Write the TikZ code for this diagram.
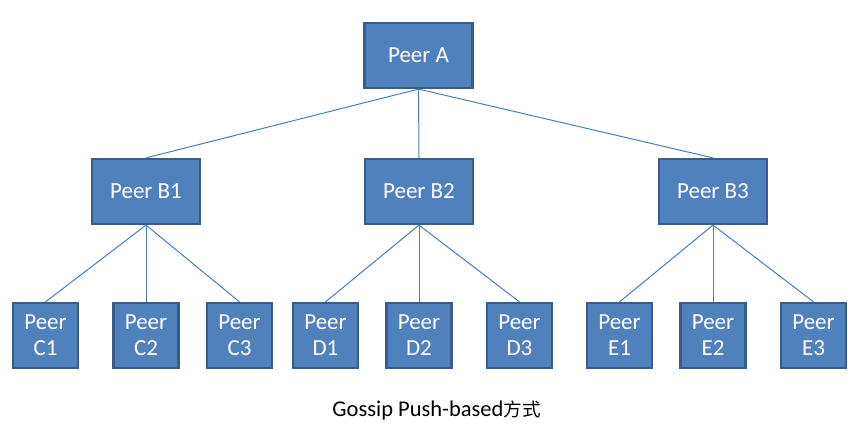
\documentclass[tikz,border=0pt]{standalone}
\usepackage{fontspec}
\setmainfont{Carlito}
\newfontfamily\cjk{Noto Sans CJK SC}
\definecolor{boxfill}{HTML}{4F81BD}
\definecolor{boxline}{HTML}{385D8A}
\definecolor{linkc}{HTML}{4A7EBB}
\begin{document}
\begin{tikzpicture}[x=1pt,y=-1pt,
  peer/.style={draw=boxline,line width=2.2pt,fill=boxfill,text=white,
    font=\fontsize{23}{26}\selectfont,align=center,inner sep=0pt},
  big/.style={peer,minimum width=108pt,minimum height=65pt},
  small/.style={peer,minimum width=65pt,minimum height=65pt},
  link/.style={draw=linkc,line width=1pt}]
\useasboundingbox (0,0) rectangle (860,430);
\node[big] (A) at (418.5,55.5) {Peer A};
\node[big] (B1) at (146,191.5) {Peer B1};
\node[big] (B2) at (419,191.5) {Peer B2};
\node[big] (B3) at (713,191.5) {Peer B3};
\node[small] (C1) at (45.5,335.5) {Peer\\C1};
\node[small] (C2) at (146,335.5) {Peer\\C2};
\node[small] (C3) at (239.5,335.5) {Peer\\C3};
\node[small] (D1) at (325.5,335.5) {Peer\\D1};
\node[small] (D2) at (419,335.5) {Peer\\D2};
\node[small] (D3) at (519.5,335.5) {Peer\\D3};
\node[small] (E1) at (619.5,335.5) {Peer\\E1};
\node[small] (E2) at (713,335.5) {Peer\\E2};
\node[small] (E3) at (813.5,335.5) {Peer\\E3};
\foreach \b in {B1,B2,B3} \draw[link] (A.south) -- (\b.north);
\foreach \c in {C1,C2,C3} \draw[link] (B1.south) -- (\c.north);
\foreach \c in {D1,D2,D3} \draw[link] (B2.south) -- (\c.north);
\foreach \c in {E1,E2,E3} \draw[link] (B3.south) -- (\c.north);
\node[font=\fontsize{22.5}{26}\selectfont,inner sep=0pt] (cap) at (436.5,410) {Gossip Push-based{\cjk\fontsize{18.5}{22}\selectfont 方式}};
\end{tikzpicture}
\end{document}
